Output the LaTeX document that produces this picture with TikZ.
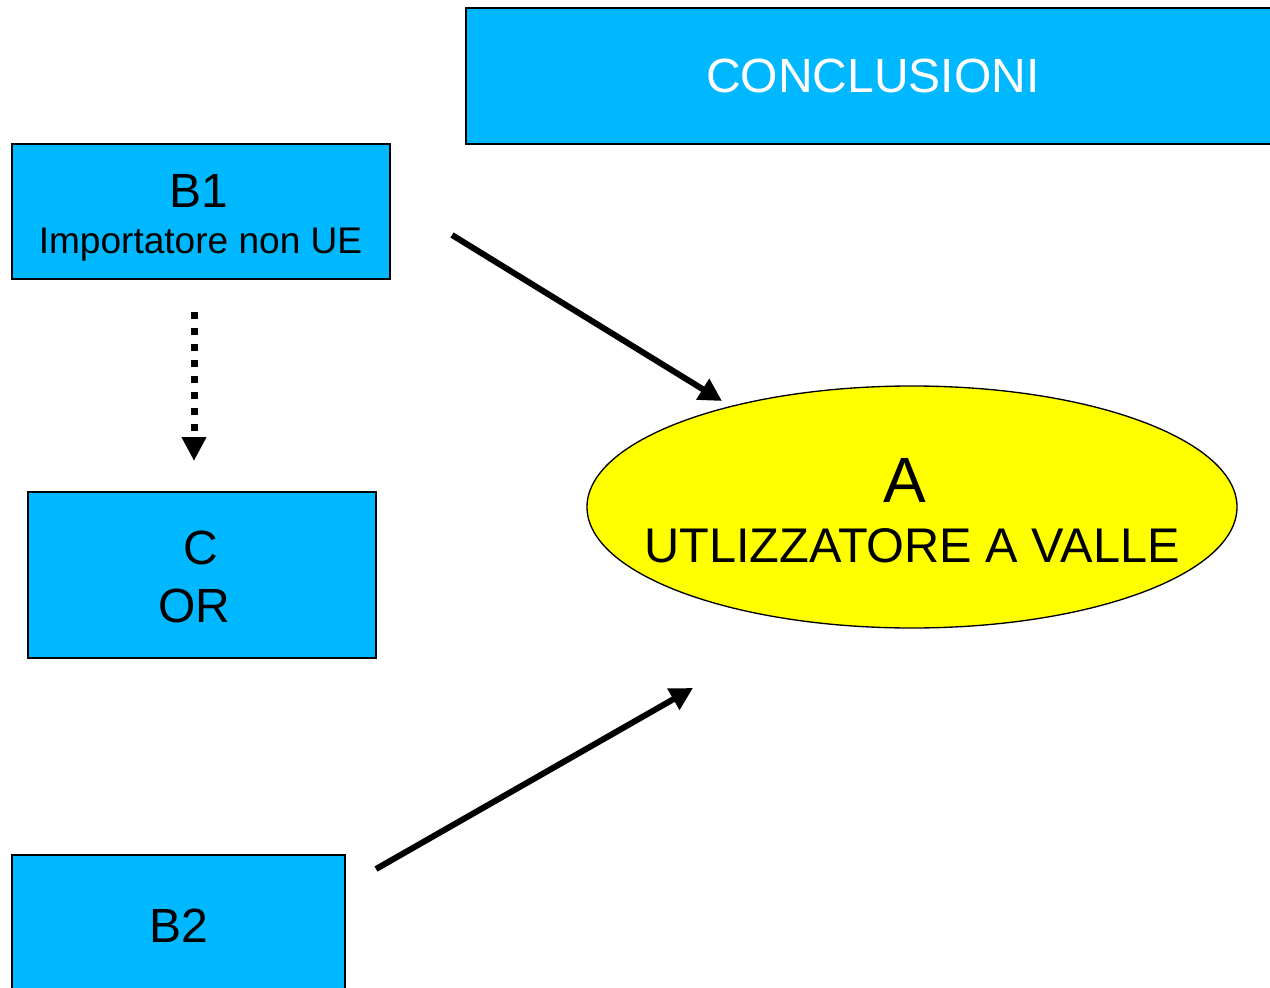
\documentclass[tikz,border=0pt]{standalone}
\usepackage{fontspec}
\setmainfont{Liberation Sans}
\usetikzlibrary{arrows.meta}
\usetikzlibrary{shapes.geometric}

\begin{document}
\begin{tikzpicture}[x=0.75pt,y=0.75pt,yscale=-1,xscale=1,
  cyanbox/.style={draw, line width=1.5pt, fill={rgb, 255:red, 0; green, 184; blue, 255}, inner sep=0pt},
  bigtext/.style={anchor=base, inner sep=0.75pt, font=\fontsize{36}{43}\selectfont},
  fatarrow/.style={line width=4.5pt, -{Triangle[length=17pt,width=17.5pt]}}]
\useasboundingbox (0,0) rectangle (1270,988);

%Shape: Rectangle [id:concl]
\node [cyanbox, minimum width=610.5pt, minimum height=102pt] (concl) at (873,76) {};
%Shape: Rectangle [id:b1]
\node [cyanbox, minimum width=283.5pt, minimum height=101.25pt] (b1) at (201,211.5) {};
%Shape: Rectangle [id:c]
\node [cyanbox, minimum width=261pt, minimum height=124.5pt] (c) at (202,575) {};
%Shape: Rectangle [id:b2]
\node [cyanbox, minimum width=249.75pt, minimum height=103.5pt] (b2) at (178.5,924) {};
%Shape: Ellipse [id:a]
\node [ellipse, draw, line width=1pt, fill={rgb, 255:red, 255; green, 255; blue, 0}, minimum width=487.5pt, minimum height=181.5pt, inner sep=0pt] (a) at (912,507) {};

%Arrow ends
\coordinate (b1out) at (452,235);
\coordinate (ain) at (722,401);
\coordinate (b2out) at (376,869);
\coordinate (ain2) at (693,688);
\coordinate (b1down) at (194,312);
\coordinate (cin) at (194,461);

%Straight Lines [id:b1-a]
\draw [fatarrow] (b1out) -- (ain) ;
%Straight Lines [id:b2-a]
\draw [fatarrow] (b2out) -- (ain2) ;
%Straight Lines [id:b1-c]
\draw [line width=5.25pt, dash pattern={on 5.25pt off 6.75pt}, -{Triangle[length=18pt,width=17.5pt]}] (b1down) -- (cin) ;

% Text Node
\node [bigtext, text=white] (tconcl) at (873,93) {CONCLUSIONI};
% Text Node
\node [bigtext] (tb1) at (199,207) {B1};
% Text Node
\node [anchor=base, inner sep=0.75pt, font=\fontsize{27.8}{33}\selectfont] (tb1sub) at (200.5,253) {Importatore non UE};
% Text Node
\node [bigtext] (tc) at (201,564) {C};
% Text Node
\node [bigtext] (tor) at (194.5,622) {OR};
% Text Node
\node [bigtext] (tb2) at (178.5,942) {B2};
% Text Node
\node [anchor=base, inner sep=0.75pt, font=\fontsize{48}{56}\selectfont] (ta) at (905,502) {A};
% Text Node
\node [anchor=base, inner sep=0.75pt, font=\fontsize{36.5}{44}\selectfont] (tasub) at (912,562) {UTLIZZATORE A VALLE};

\end{tikzpicture}
\end{document}
